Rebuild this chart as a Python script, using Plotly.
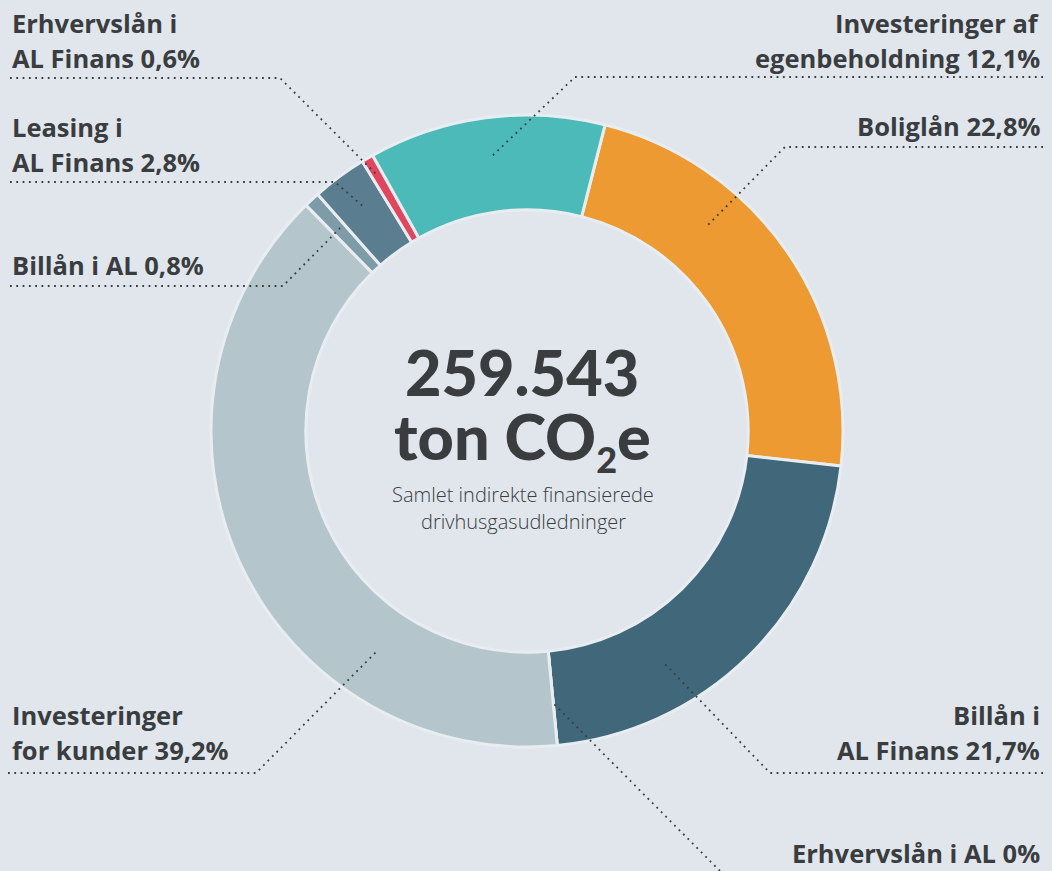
import plotly.graph_objects as go

W, H = 1052, 871

# ---- data ----
categories = ["Boliglån", "Billån i AL Finans", "Erhvervslån i AL",
              "Investeringer for kunder", "Billån i AL", "Leasing i AL Finans",
              "Erhvervslån i AL Finans", "Investeringer af egenbeholdning"]
shares = [22.8, 21.7, 0.0, 39.2, 0.8, 2.8, 0.6, 12.1]
colors = ["#EC9A31", "#40687A", "#2E4A57", "#B5C5CC", "#7E9BA8", "#5A7D90",
          "#E0475F", "#4BBAB8"]
total_label = "259.543"

# label lines: (lines, x_px, first_line_center_y_px, align)
labels = [
    (["Erhvervslån i", "AL Finans 0,6%"], 10, 23, "left"),
    (["Leasing i", "AL Finans 2,8%"], 10, 127, "left"),
    (["Billån i AL 0,8%"], 10, 265, "left"),
    (["Investeringer", "for kunder 39,2%"], 10, 715, "left"),
    (["Investeringer af", "egenbeholdning 12,1%"], 1042, 23, "right"),
    (["Boliglån 22,8%"], 1042, 126, "right"),
    (["Billån i", "AL Finans 21,7%"], 1042, 715, "right"),
    (["Erhvervslån i AL 0%"], 1042, 853, "right"),
]
# leader lines (pixel polylines)
leaders = [
    [(10, 78), (280, 78), (378, 176)],
    [(10, 182), (335, 182), (365, 208)],
    [(10, 286), (283, 286), (340, 228)],
    [(8, 773), (256, 773), (376, 652)],
    [(1043, 77), (575, 77), (490, 158)],
    [(1043, 147), (785, 147), (707, 226)],
    [(1043, 773), (770, 773), (664, 663)],
    [(720, 871), (553, 703)],
]

BG = "#E0E6EC"
TXT = "#3A3D40"
LFONT = "Open Sans"
CFONT = "Lato"

cx, cy, R = 527, 431, 316

def px(x):
    return x / W

def py(y):
    return 1 - y / H

fig = go.Figure(go.Pie(
    labels=categories, values=shares, sort=False, direction="clockwise",
    rotation=14.3, hole=0.70, textinfo="none", hoverinfo="label+percent",
    marker=dict(colors=colors, line=dict(color="#E8EDF1", width=3)),
    domain=dict(x=[px(cx - R), px(cx + R)], y=[py(cy + R), py(cy - R)]),
    showlegend=False,
))

shapes = []
for pts in leaders:
    path = "M " + " L ".join(f"{px(x)},{py(y)}" for x, y in pts)
    shapes.append(dict(type="path", path=path, xref="paper", yref="paper",
                       line=dict(color=TXT, width=1.8, dash="1.8px,4.5px")))

annotations = []
LH = 35
for lines, x, y0, align in labels:
    for i, t in enumerate(lines):
        annotations.append(dict(
            text=t, x=px(x), y=py(y0 + i * LH), xref="paper", yref="paper",
            xanchor=align, yanchor="middle", showarrow=False,
            font=dict(family=LFONT, size=25.5, color=TXT, weight=700)))

annotations += [
    dict(text=total_label, x=px(522), y=py(371), xref="paper", yref="paper",
         showarrow=False, xanchor="center", yanchor="middle",
         font=dict(family=CFONT, size=63, color=TXT, weight=900)),
    dict(text="ton CO<sub><span style='font-size:36px'>2</span></sub>e",
         x=px(522), y=py(440), xref="paper", yref="paper",
         showarrow=False, xanchor="center", yanchor="middle",
         font=dict(family=CFONT, size=63, color=TXT, weight=900)),
    dict(text="Samlet indirekte finansierede", x=px(523), y=py(494), xref="paper",
         yref="paper", showarrow=False, xanchor="center", yanchor="middle",
         font=dict(family="Open Sans", size=20, color=TXT, weight=300)),
    dict(text="drivhusgasudledninger", x=px(523), y=py(521), xref="paper",
         yref="paper", showarrow=False, xanchor="center", yanchor="middle",
         font=dict(family="Open Sans", size=20, color=TXT, weight=300)),
]

fig.update_layout(
    width=W, height=H, margin=dict(l=0, r=0, t=0, b=0),
    paper_bgcolor=BG, plot_bgcolor=BG,
    shapes=shapes, annotations=annotations,
)
fig.write_html("out.html", config={"displayModeBar": False},
               post_script="document.body.style.margin='0';document.body.style.overflow='hidden';")
